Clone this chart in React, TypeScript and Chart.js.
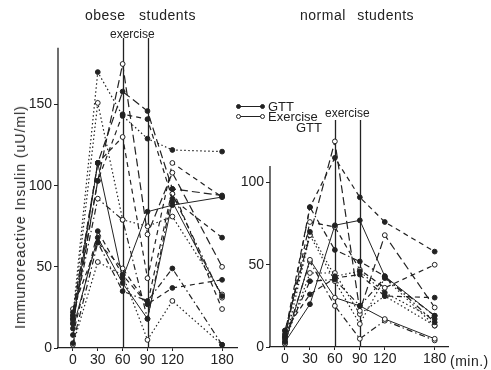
import React, { useEffect, useRef } from "react";
import { Chart, registerables } from "chart.js";
Chart.register(...registerables);

const MINUTES = [0, 30, 60, 90, 120, 180];
const X_TICKS = [0, 30, 60, 90, 120, 180];
const EXERCISE_START = 60;
const EXERCISE_END = 90;
const OBESE_Y_TICKS = [0, 50, 100, 150];
const NORMAL_Y_TICKS = [0, 50, 100];

// obese students, GTT (filled markers)
const obeseGtt1 = [20, 170, 143, 129, 122, 121];
const obeseGtt2 = [22, 114, 158, 146, 98, 94];
const obeseGtt3 = [18, 103, 144, 141, 92, 68];
const obeseGtt4 = [15, 114, 43, 84, 88, 93];
const obeseGtt5 = [12, 68, 40, 18, 90, 32];
const obeseGtt6 = [3, 65, 35, 29, 49, 2];
const obeseGtt7 = [8, 72, 45, 27, 37, 42];
// obese students, exercise GTT (open markers)
const obeseEx1 = [15, 103, 175, 70, 108, 50];
const obeseEx2 = [18, 151, 79, 75, 81, 33];
const obeseEx3 = [20, 114, 130, 43, 114, 93];
const obeseEx4 = [17, 92, 79, 18, 95, 31];
const obeseEx5 = [2, 53, 45, 5, 29, 2];
const obeseEx6 = [24, 65, 49, 27, 98, 24];

// normal students, GTT (filled markers)
const normalGtt1 = [8, 85, 115, 91, 76, 58];
const normalGtt2 = [3, 26, 74, 77, 43, 19];
const normalGtt3 = [5, 85, 59, 52, 43, 15];
const normalGtt4 = [7, 70, 43, 46, 33, 17];
const normalGtt5 = [10, 32, 42, 44, 31, 30];
const normalGtt6 = [6, 40, 41, 25, 42, 19];
// normal students, exercise GTT (open markers)
const normalEx1 = [10, 68, 125, 22, 68, 24];
const normalEx2 = [6, 76, 73, 47, 36, 50];
const normalEx3 = [2, 53, 30, 25, 17, 5];
const normalEx4 = [4, 52, 25, 5, 16, 4];
const normalEx5 = [3, 45, 45, 20, 31, 13];
const normalEx6 = [2, 68, 40, 14, 42, 13];

const obeseSeries = [obeseGtt1, obeseGtt2, obeseGtt3, obeseGtt4, obeseGtt5, obeseGtt6, obeseGtt7, obeseEx1, obeseEx2, obeseEx3, obeseEx4, obeseEx5, obeseEx6];
const obeseFilled = [true, true, true, true, true, true, true, false, false, false, false, false, false];
const obeseStyles = ["dotted", "longDash", "dashed", "solid", "solid", "dashDot", "dashed", "longDash", "dotted", "dashed", "dashDot", "dotted", "dashed"];

const normalSeries = [normalGtt1, normalGtt2, normalGtt3, normalGtt4, normalGtt5, normalGtt6, normalEx1, normalEx2, normalEx3, normalEx4, normalEx5, normalEx6];
const normalFilled = [true, true, true, true, true, true, false, false, false, false, false, false];
const normalStyles = ["dashed", "solid", "dashDot", "dotted", "dashed", "dashDot", "longDash", "dashed", "solid", "dashDot", "dotted", "dotted"];

const DASHES: Record<string, number[]> = {
  solid: [],
  dashed: [5, 4],
  longDash: [8, 4],
  dotted: [1.5, 2.5],
  dashDot: [6, 3, 1.5, 3],
};

const INK = "#222";
const FONT = "'Liberation Sans Narrow', 'Liberation Sans', Arial, sans-serif";

type Panel = {
  series: number[][];
  filled: boolean[];
  styles: string[];
  yTicks: number[];
  width: number;
  padTop: number;
  padRight: number;
  yAxisWidth: number;
  xAxisHeight: number;
  xMin: number;
  xMax: number;
  yMax: number;
  axisTop: number;
};

const OBESE_PANEL: Panel = {
  series: obeseSeries, filled: obeseFilled, styles: obeseStyles, yTicks: OBESE_Y_TICKS,
  width: 245, padTop: 38, padRight: 8, yAxisWidth: 58, xAxisHeight: 22,
  xMin: -18, xMax: 198, yMax: 191, axisTop: 185,
};
const NORMAL_PANEL: Panel = {
  series: normalSeries, filled: normalFilled, styles: normalStyles, yTicks: NORMAL_Y_TICKS,
  width: 259, padTop: 120, padRight: 43, yAxisWidth: 38, xAxisHeight: 23,
  xMin: -18, xMax: 196, yMax: 138, axisTop: 110,
};

const framePlugin = {
  id: "frame",
  beforeDatasetsDraw(chart: any, _a: any, opts: any) {
    const { ctx, chartArea, scales } = chart;
    const x = scales.x, y = scales.y;
    ctx.save();
    ctx.strokeStyle = INK;
    ctx.lineWidth = 1.3;
    ctx.setLineDash([]);
    ctx.beginPath();
    ctx.moveTo(chartArea.left, y.getPixelForValue(0));
    ctx.lineTo(chartArea.left, y.getPixelForValue(opts.axisTop));
    [EXERCISE_START, EXERCISE_END].forEach((m) => {
      const px = Math.round(x.getPixelForValue(m)) + 0.5;
      ctx.moveTo(px, chartArea.top);
      ctx.lineTo(px, chartArea.bottom);
    });
    ctx.stroke();
    ctx.restore();
  },
};

function PanelChart({ panel, left }: { panel: Panel; left: number }) {
  const ref = useRef<HTMLCanvasElement>(null);
  useEffect(() => {
    const datasets = panel.series.map((vals, i) => ({
      data: MINUTES.map((m, j) => ({ x: m, y: vals[j] })),
      borderColor: INK,
      borderWidth: panel.styles[i] === "solid" ? 1 : 1.2,
      borderDash: DASHES[panel.styles[i]],
      pointRadius: 2.4,
      pointBorderWidth: 1,
      pointBorderColor: INK,
      pointBackgroundColor: panel.filled[i] ? INK : "#fff",
      fill: false,
      tension: 0,
    }));
    const tickFont = { family: FONT, size: 14 };
    const chart = new Chart(ref.current!, {
      type: "line",
      data: { datasets },
      options: {
        responsive: false,
        animation: false,
        devicePixelRatio: 1,
        layout: { padding: { top: panel.padTop, right: panel.padRight, left: 0, bottom: 0 } },
        plugins: { legend: { display: false }, tooltip: { enabled: false }, frame: { axisTop: panel.axisTop } } as any,
        scales: {
          x: {
            type: "linear",
            min: panel.xMin,
            max: panel.xMax,
            afterBuildTicks: (s: any) => { s.ticks = X_TICKS.map((v) => ({ value: v })); },
            afterFit: (s: any) => { s.height = panel.xAxisHeight; },
            grid: { display: true, drawOnChartArea: false, drawTicks: true, tickLength: 3, color: INK },
            border: { display: true, color: INK, width: 1.3 },
            ticks: { font: tickFont, color: INK, padding: 1, maxRotation: 0, autoSkip: false },
          },
          y: {
            type: "linear",
            min: 0,
            max: panel.yMax,
            afterBuildTicks: (s: any) => { s.ticks = panel.yTicks.map((v) => ({ value: v })); },
            afterFit: (s: any) => { s.width = panel.yAxisWidth; },
            grid: { display: true, drawOnChartArea: false, drawTicks: true, tickLength: 4, color: INK },
            border: { display: false },
            ticks: { font: tickFont, color: INK, padding: 2 },
          },
        },
      },
      plugins: [framePlugin],
    });
    return () => chart.destroy();
  }, [panel]);
  return (
    <canvas
      ref={ref}
      width={panel.width}
      height={370}
      style={{ position: "absolute", left, top: 0, width: panel.width, height: 370 }}
    />
  );
}

const textBase: React.CSSProperties = { position: "absolute", fontFamily: FONT, color: INK, whiteSpace: "nowrap", lineHeight: 1 };

function Dot({ x, y, filled }: { x: number; y: number; filled: boolean }) {
  return (
    <div style={{ position: "absolute", left: x - 2.5, top: y - 2.5, width: 3, height: 3, borderRadius: "50%", border: `1px solid ${INK}`, background: filled ? INK : "#fff" }} />
  );
}

export default function App() {
  return (
    <div style={{ position: "absolute", left: 0, top: 0, width: 491, height: 370, background: "#fff", overflow: "hidden" }}>
      <PanelChart panel={OBESE_PANEL} left={0} />
      <PanelChart panel={NORMAL_PANEL} left={232} />
      <div style={{ ...textBase, left: 85, top: 8, fontSize: 14, letterSpacing: 0.5, wordSpacing: 9 }}>obese students</div>
      <div style={{ ...textBase, left: 300, top: 8, fontSize: 14, letterSpacing: 0.5, wordSpacing: 7 }}>normal students</div>
      <div style={{ ...textBase, left: 110, top: 28, fontSize: 12 }}>exercise</div>
      <div style={{ ...textBase, left: 325, top: 107, fontSize: 12 }}>exercise</div>
      {/* legend */}
      <div style={{ position: "absolute", left: 238, top: 105.5, width: 24, height: 1, background: INK }} />
      <Dot x={238} y={106} filled={true} />
      <Dot x={262} y={106} filled={true} />
      <div style={{ ...textBase, left: 268, top: 100, fontSize: 13 }}>GTT</div>
      <div style={{ position: "absolute", left: 238, top: 115.5, width: 24, height: 1, background: INK }} />
      <Dot x={238} y={116} filled={false} />
      <Dot x={262} y={116} filled={false} />
      <div style={{ ...textBase, left: 268, top: 110, fontSize: 13 }}>Exercise</div>
      <div style={{ ...textBase, left: 296, top: 121, fontSize: 13 }}>GTT</div>
      <div style={{ ...textBase, left: 450, top: 354, fontSize: 14, letterSpacing: 0.5 }}>(min.)</div>
      <div
        style={{
          ...textBase,
          left: 20,
          top: 217,
          fontSize: 14,
          letterSpacing: 1,
          transform: "translate(-50%, -50%) rotate(-90deg)",
        }}
      >
        Immunoreactive Insulin (uU/ml)
      </div>
    </div>
  );
}
